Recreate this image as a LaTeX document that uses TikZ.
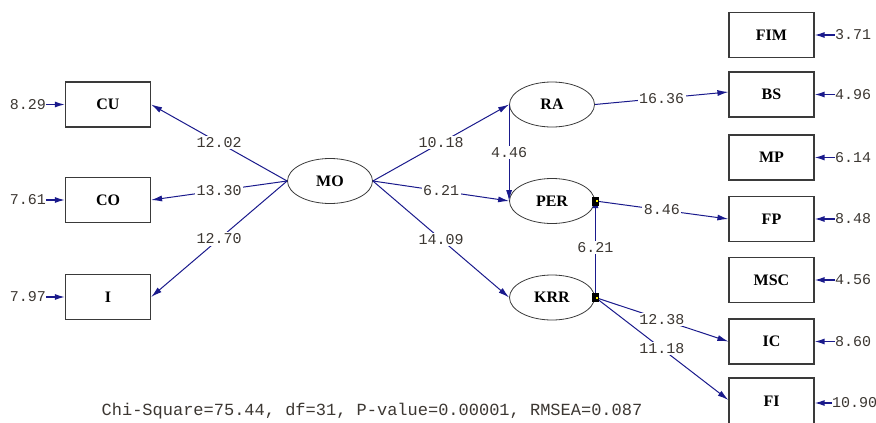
\documentclass[tikz,border=0pt]{standalone}
\usepackage{fontspec}
\setmainfont{Liberation Serif}
\setmonofont{Liberation Mono}
\usetikzlibrary{arrows.meta,shapes.geometric}
\definecolor{pathblue}{HTML}{1A1A8C}
\definecolor{numtxt}{HTML}{3C3732}
\definecolor{edgegray}{HTML}{3A3A3A}
\tikzset{
  obsbox/.style={draw=edgegray,line width=1.2pt,minimum width=85pt,minimum height=45pt,inner sep=0pt,font=\fontsize{16}{18}\selectfont\bfseries},
  latent/.style={ellipse,draw=edgegray,line width=0.8pt,minimum width=85pt,minimum height=45pt,inner sep=0pt,font=\fontsize{16}{18}\selectfont\bfseries},
  path/.style={draw=pathblue,line width=1pt,-{Latex[length=11pt,width=6pt]}},
  resid/.style={draw=pathblue,line width=1.3pt,-{Latex[length=10pt,width=6pt]}},
  coef/.style={fill=white,inner sep=1.5pt,text=numtxt,font=\fontsize{15}{16}\ttfamily},
  residtxt/.style={inner sep=0pt,text=numtxt,font=\fontsize{15}{16}\ttfamily},
  marker/.style={fill=black,minimum width=7pt,minimum height=9pt,inner sep=0pt}
}
\begin{document}
\begin{tikzpicture}[x=1pt,y=-1pt]
\useasboundingbox (0,0) rectangle (876,423);
\clip (0,0) rectangle (876,423);
% left indicators
\node[obsbox] (CU) at (108,104.5) {CU};
\node[obsbox] (CO) at (108,200) {CO};
\node[obsbox] (I) at (108,297) {I};
% latent variables
\node[latent] (MO) at (330,181) {MO};
\node[latent] (RA) at (552,104.5) {RA};
\node[latent] (PER) at (552,201) {PER};
\node[latent] (KRR) at (552,297.5) {KRR};
% right indicators
\node[obsbox] (FIM) at (771.5,35) {FIM};
\node[obsbox] (BS) at (771.5,94.5) {BS};
\node[obsbox] (MP) at (771.5,157.5) {MP};
\node[obsbox] (FP) at (771.5,219) {FP};
\node[obsbox] (MSC) at (771.5,280) {MSC};
\node[obsbox] (IC) at (771.5,341.5) {IC};
\node[obsbox,minimum height=46pt] (FI) at (771.5,401) {FI};
% residual labels (left)
\node[residtxt,anchor=east] (eCU) at (46,104.5) {8.29};
\node[residtxt,anchor=east] (eCO) at (46,200) {7.61};
\node[residtxt,anchor=east] (eI) at (46,297) {7.97};
\draw[resid] (eCU.east) -- (CU.west);
\draw[resid] (eCO.east) -- (CO.west);
\draw[resid] (eI.east) -- (I.west);
% residual labels (right)
\node[residtxt,anchor=west] (eFIM) at (835,35) {3.71};
\node[residtxt,anchor=west] (eBS) at (835,94.5) {4.96};
\node[residtxt,anchor=west] (eMP) at (835,157.5) {6.14};
\node[residtxt,anchor=west] (eFP) at (835,219) {8.48};
\node[residtxt,anchor=west] (eMSC) at (835,280) {4.56};
\node[residtxt,anchor=west] (eIC) at (835,341.5) {8.60};
\node[residtxt,anchor=west] (eFI) at (832,403) {10.90};
\foreach \n in {FIM,BS,MP,FP,MSC,IC}{\draw[resid] (e\n.west) -- (\n.east);}
\draw[resid] (eFI.west) -- (FI.east |- eFI.west);
% MO -> left indicators
\draw[path] (MO.west) -- node[coef] {12.02} (CU.east);
\draw[path] (MO.west) -- node[coef] {13.30} (CO.east);
\draw[path] (MO.west) -- node[coef] {12.70} (I.east);
% MO -> latent
\draw[path] (MO.east) -- node[coef] {10.18} (RA.west);
\draw[path] (MO.east) -- node[coef] {6.21} (PER.west);
\draw[path] (MO.east) -- node[coef] {14.09} (KRR.west);
% between latent
\draw[path] (RA.west) -- node[coef] {4.46} (PER.west);
\coordinate (pm) at ([xshift=0.5pt]PER.east);
\coordinate (km) at ([xshift=0.5pt]KRR.east);
\draw[path] (km) -- node[coef] {6.21} ([yshift=4pt]pm);
% latent -> right indicators
\draw[path] (RA.east) -- node[coef] {16.36} ([yshift=2.5pt]BS.west);
\draw[path] (pm) -- node[coef] {8.46} (FP.west);
\draw[path] (km) -- node[coef] {12.38} (IC.west);
\draw[path] (km) -- node[coef] {11.18} ([yshift=1pt]FI.west);
% markers
\node[marker] (mP) at (pm) {};
\node[marker] (mK) at (km) {};
\fill[yellow] ([xshift=0.5pt,yshift=-1pt]pm) rectangle ([xshift=2.5pt,yshift=1pt]pm);
\fill[yellow] ([xshift=0.5pt,yshift=-1pt]km) rectangle ([xshift=2.5pt,yshift=1pt]km);
% fit statistics
\node[inner sep=0pt,text=numtxt,font=\fontsize{17}{19}\ttfamily] (fit) at (372,411) {Chi-Square=75.44, df=31, P-value=0.00001, RMSEA=0.087};
\end{tikzpicture}
\end{document}
